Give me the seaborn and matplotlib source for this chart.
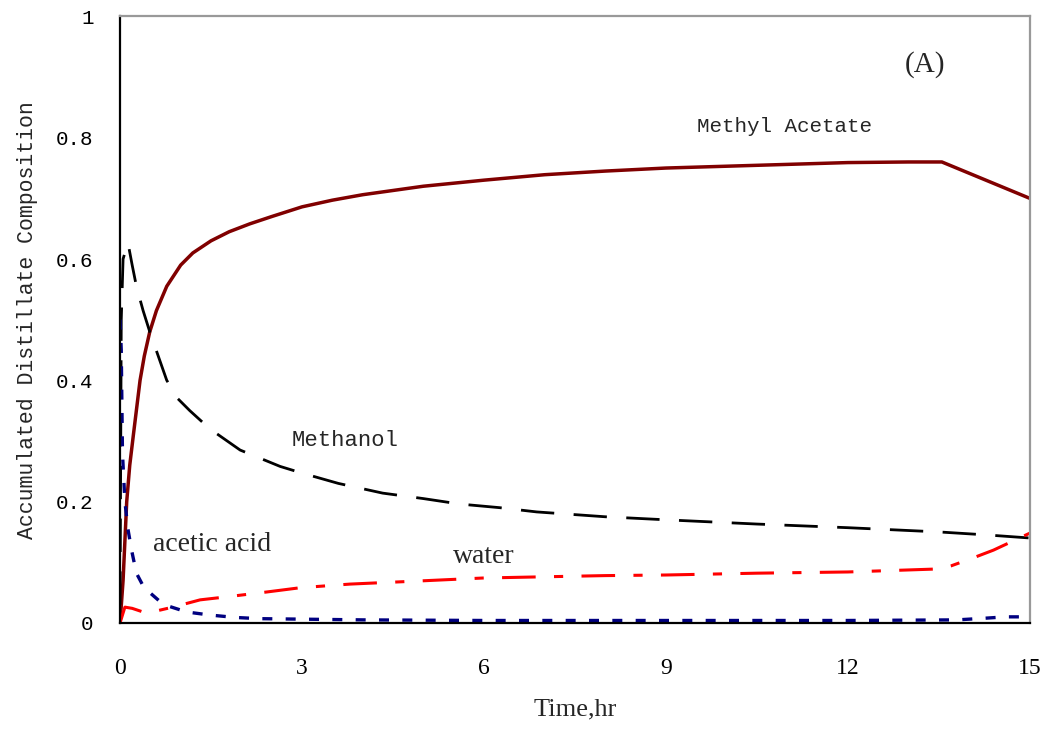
import matplotlib
matplotlib.use("Agg")
import matplotlib.pyplot as plt
import seaborn as sns
import pandas as pd

# ---- data ----
t_ma = [0, 0.05, 0.11, 0.16, 0.22, 0.33, 0.40, 0.49, 0.60, 0.77, 1.0, 1.2, 1.5, 1.8, 2.14, 2.5,
        3.0, 3.5, 4.0, 4.5, 5.0, 6.0, 7.0, 8.0, 9.0, 10.0, 11.0, 12.0, 13.0, 13.55, 15.0]
methyl_acetate = [0, 0.07, 0.20, 0.26, 0.31, 0.40, 0.44, 0.48, 0.515, 0.555, 0.59, 0.61, 0.63, 0.645,
                  0.658, 0.67, 0.686, 0.697, 0.706, 0.713, 0.72, 0.73, 0.739, 0.745, 0.75, 0.753,
                  0.756, 0.759, 0.76, 0.76, 0.70]

t_me = [0, 0.02, 0.05, 0.13, 0.20, 0.27, 0.38, 0.49, 0.63, 0.77, 0.95, 1.15, 1.48, 1.98, 2.64,
        3.0, 3.6, 4.33, 5.0, 5.6, 6.26, 6.87, 8.0, 9.0, 10.5, 12.0, 13.5, 14.3, 15.0]
methanol = [0.03, 0.50, 0.60, 0.627, 0.59, 0.555, 0.515, 0.48, 0.44, 0.40, 0.37, 0.35, 0.32, 0.285,
            0.258, 0.247, 0.23, 0.214, 0.205, 0.196, 0.19, 0.183, 0.175, 0.17, 0.163, 0.157,
            0.15, 0.145, 0.14]

t_aa = [0, 0.02, 0.04, 0.08, 0.13, 0.19, 0.27, 0.37, 0.49, 0.65, 0.82, 1.1, 1.48, 1.9, 2.3,
        4.0, 6.0, 9.0, 12.0, 13.8, 14.3, 14.6, 15.0]
acetic_acid = [0.5, 0.45, 0.28, 0.20, 0.155, 0.12, 0.082, 0.063, 0.05, 0.036, 0.027, 0.018, 0.013,
               0.009, 0.007, 0.005, 0.004, 0.004, 0.004, 0.005, 0.008, 0.01, 0.01]

t_w = [0, 0.08, 0.2, 0.44, 0.87, 1.32, 1.76, 2.42, 2.97, 3.79, 4.9, 5.98, 6.97, 8.0, 9.0, 10.5,
       12.0, 13.5, 13.7, 14.06, 14.4, 14.7, 15.0]
water = [0, 0.026, 0.024, 0.016, 0.026, 0.038, 0.043, 0.051, 0.058, 0.064, 0.069, 0.074, 0.076,
         0.078, 0.079, 0.082, 0.084, 0.089, 0.094, 0.107, 0.12, 0.134, 0.148]

x_ticks = [0, 3, 6, 9, 12, 15]
y_ticks = [0, 0.2, 0.4, 0.6, 0.8, 1.0]
y_tick_labels = ["0", "0.2", "0.4", "0.6", "0.8", "1"]

sns.set_theme(style="white")
plt.rcParams["font.family"] = ["Liberation Mono", "DejaVu Sans"]

fig = plt.figure(figsize=(10.53, 7.46), dpi=100)
ax = fig.add_axes([0.114, 0.165, 0.864, 0.813])

sns.lineplot(x=t_ma, y=methyl_acetate, ax=ax, color="#800000", linewidth=2.5, estimator=None)
sns.lineplot(x=t_me, y=methanol, ax=ax, color="black", linewidth=2.0,
             linestyle=(0, (12, 7)), estimator=None)
sns.lineplot(x=t_aa, y=acetic_acid, ax=ax, color="#000080", linewidth=2.4,
             linestyle=(0, (3, 4)), estimator=None)
sns.lineplot(x=t_w, y=water, ax=ax, color="red", linewidth=2.2,
             linestyle=(0, (11, 6, 3, 6)), estimator=None)

ax.set_xlim(0, 15)
ax.set_ylim(0, 1)
ax.set_xticks(x_ticks)
ax.set_xticklabels([str(v) for v in x_ticks])
ax.set_yticks(y_ticks)
ax.set_yticklabels(y_tick_labels)
ax.tick_params(axis="both", which="major", direction="out", length=7, width=1.2,
               colors="black", pad=18)
ax.tick_params(axis="y", pad=12)
for lab in ax.get_xticklabels():
    lab.set_family(["Liberation Serif"])
    lab.set_fontsize(17)
for lab in ax.get_yticklabels():
    lab.set_family(["Liberation Mono"])
    lab.set_fontsize(15)

for s in ["left", "bottom"]:
    ax.spines[s].set_color("black")
    ax.spines[s].set_linewidth(1.6)
for s in ["top", "right"]:
    ax.spines[s].set_color("#999999")
    ax.spines[s].set_linewidth(1.6)

ax.set_xlabel("Time,hr", family=["Liberation Serif"], fontsize=19, labelpad=14)
ax.set_ylabel("Accumulated Distillate Composition", family=["Liberation Mono"], fontsize=15.5)
ax.yaxis.set_label_coords(-0.09, 0.5)

ax.text(10.96, 0.819, "Methyl Acetate", family=["Liberation Mono"], fontsize=15,
        ha="center", va="center")
ax.text(3.71, 0.30, "Methanol", family=["Liberation Mono"], fontsize=16,
        ha="center", va="center")
ax.text(1.52, 0.129, "acetic acid", family=["Liberation Serif"], fontsize=20,
        ha="center", va="center")
ax.text(6.0, 0.109, "water", family=["Liberation Serif"], fontsize=20,
        ha="center", va="center")
ax.text(13.27, 0.92, "(A)", family=["Liberation Serif"], fontsize=21,
        ha="center", va="center")

fig.savefig("out.png", dpi=100, facecolor="white")
